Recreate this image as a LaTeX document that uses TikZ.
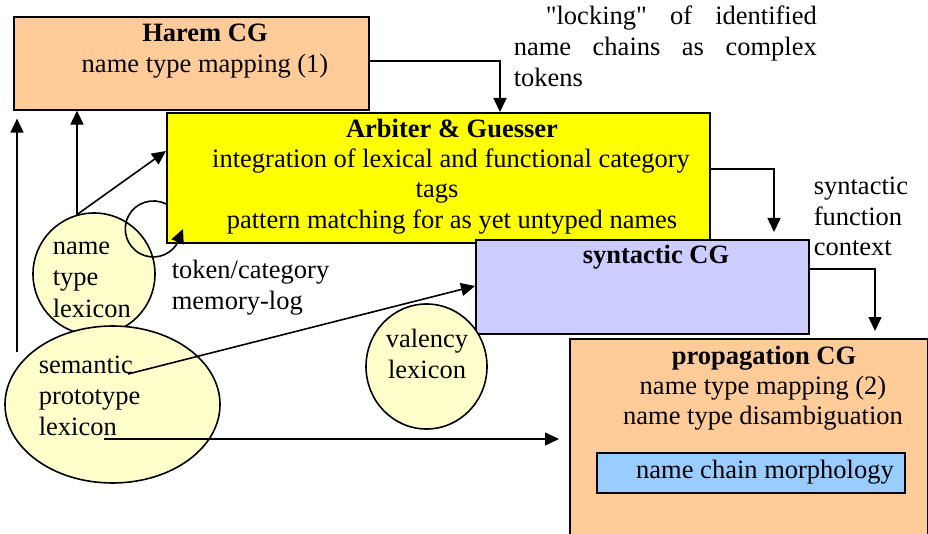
\documentclass[tikz,border=0pt]{standalone}
\usepackage{fontspec}
\setmainfont{Liberation Serif}
% same face without TeX ligature mapping, for straight double quotes
\newfontfamily\plainrm{Liberation Serif}
\usetikzlibrary{arrows.meta,calc,shapes.geometric}

\definecolor{peach}{HTML}{FFCC99}
\definecolor{boxyellow}{HTML}{FFFF00}
\definecolor{lavender}{HTML}{CCCCFF}
\definecolor{skyblue}{HTML}{99CCFF}
\definecolor{cream}{HTML}{FFFFCC}

\begin{document}
\begin{tikzpicture}[x=1pt,y=-1pt,line width=1.6pt,
  font=\fontsize{26.5}{30.5}\selectfont,
  box/.style={draw,rectangle,inner sep=0pt,anchor=north west},
  lex/.style={draw,ellipse,fill=cream,inner sep=0pt},
  txt/.style={anchor=base,inner sep=0pt},
  txtl/.style={anchor=base west,inner sep=0pt},
  arr/.style={-{Triangle[length=14pt,width=13pt]}}]

\useasboundingbox (0,0) rectangle (928,534);

% processing stages
\node[box,fill=peach,minimum width=355pt,minimum height=93pt] (harem) at (13,16) {};
\node[box,fill=boxyellow,minimum width=543pt,minimum height=130pt] (arb) at (166,112) {};
\node[box,fill=lavender,minimum width=333pt,minimum height=94pt] (syn) at (475,239) {};
\node[box,fill=peach,minimum width=358pt,minimum height=230pt] (prop) at (569,338) {};
\node[box,fill=skyblue,minimum width=308pt,minimum height=40pt] (morph) at (596,452) {};

% lexica
\node[lex,minimum width=122pt,minimum height=122pt] (ntl) at (94,274) {};
\node[lex,minimum width=215pt,minimum height=157pt] (spl) at (112.5,404.5) {};
\node[lex,minimum width=121pt,minimum height=125pt] (val) at (426.5,366.5) {};

% box texts
\node[txt] (haremT) at (205,42) {\textbf{Harem CG}};
\node[txt] (haremA) at (205,73) {name type mapping (1)};
\node[txt] (arbT) at (452,138) {\textbf{Arbiter \& Guesser}};
\node[txt] (arbA) at (451,168) {integration of lexical and functional category};
\node[txt] (arbB) at (437,198) {tags};
\node[txt] (arbC) at (452,229) {pattern matching for as yet untyped names};
\node[txt] (synT) at (656,264) {\textbf{syntactic CG}};
\node[txt] (propT) at (764,364) {\textbf{propagation CG}};
\node[txt] (propA) at (763,394) {name type mapping (2)};
\node[txt] (propB) at (763,424) {name type disambiguation};
\node[txt] (morphT) at (765,478) {name chain morphology};

% lexicon texts
\node[txtl] (ntlA) at (52,255) {name};
\node[txtl] (ntlB) at (52,286) {type};
\node[txtl] (ntlC) at (52,317) {lexicon};
\node[txtl] (splA) at (38,373) {semantic};
\node[txtl] (splB) at (38,404) {prototype};
\node[txtl] (splC) at (38,435) {lexicon};
\node[txt] (valA) at (427,347) {valency};
\node[txt] (valB) at (427,378) {lexicon};

% free labels
\node[txtl] (lockA) at (545,25) {\makebox[271pt][s]{{\plainrm "locking"} of identified}};
\node[txtl] (lockB) at (513,56) {\makebox[303pt][s]{name chains as complex}};
\node[txtl] (lockC) at (513,87) {tokens};
\node[txtl] (sfA) at (813,195) {syntactic};
\node[txtl] (sfB) at (813,226) {function};
\node[txtl] (sfC) at (813,256) {context};
\node[txtl] (memA) at (171,279) {token/category};
\node[txtl] (memB) at (171,309) {memory-log};

% connector end points
\coordinate (leftfoot) at (17,352);
\coordinate (looptip) at (183,229);
\coordinate (semA) at (128,374);
\coordinate (semB) at (104,439);

% connectors
\draw[arr] (harem.east |- 0,61) -| (arb.north west -| 500,0);
\draw[arr,shorten >=7pt] (arb.east |- 0,169) -| (syn.north west -| 774,0);
\draw[arr,shorten >=7pt] (syn.east |- 0,269) -| (prop.north west -| 875,0);
\draw[arr,shorten >=8pt] (leftfoot) -- (harem.south west -| leftfoot);
\draw[arr] (ntl.106) -- (ntl.106 |- harem.south);
\draw[arr] (ntl.106) -- (arb.west |- 0,151);
\draw[arr] (arb.west |- 0,204) arc[start angle=-63,end angle=-325,radius=28] -- (looptip);
\draw[arr] (semA) -- (syn.west |- 0,286);
\draw[arr,shorten >=10pt] (semB) -- (prop.west |- semB);
\end{tikzpicture}
\end{document}
